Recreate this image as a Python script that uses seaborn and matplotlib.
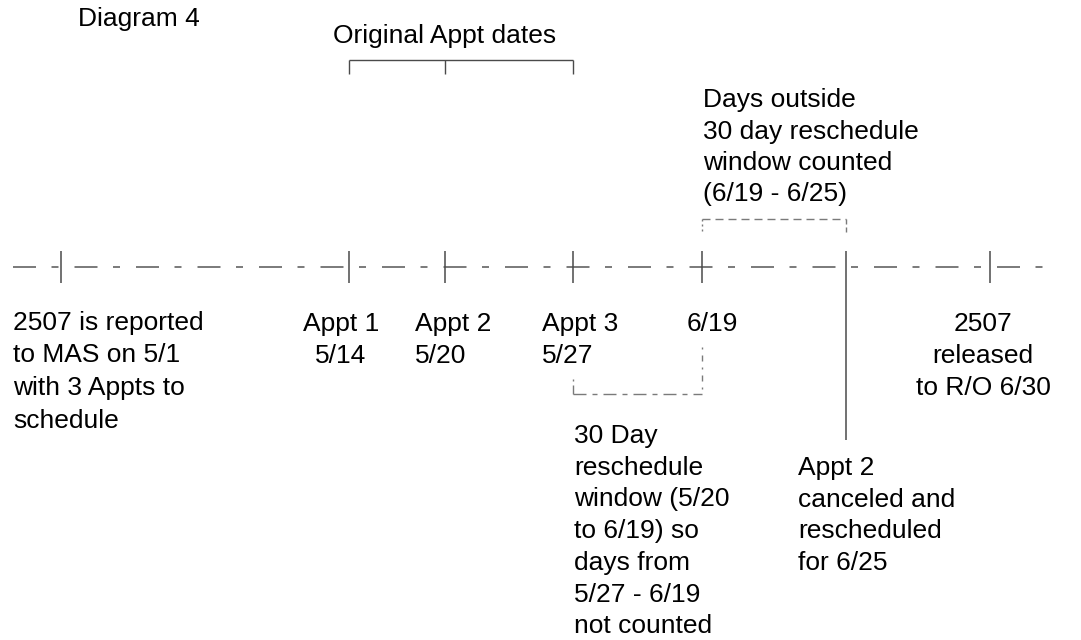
import matplotlib
matplotlib.use("Agg")
import matplotlib.pyplot as plt
import seaborn as sns
import pandas as pd

# ---- content ----
title = "Diagram 4"
bracket_title = "Original Appt dates"
event_names = ["Report", "Appt 1", "Appt 2", "Appt 3", "6/19", "Appt 2 resched", "Release"]
event_dates = ["5/1", "5/14", "5/20", "5/27", "6/19", "6/25", "6/30"]
left_note = ["2507 is reported", "to MAS on 5/1", "with 3 Appts to", "schedule"]
appt1_label = ["Appt 1", "5/14"]
appt2_label = ["Appt 2", "5/20"]
appt3_label = ["Appt 3", "5/27"]
day619_label = ["6/19"]
release_note = ["2507", "released", "to R/O 6/30"]
outside_note = ["Days outside", "30 day reschedule", "window counted", "(6/19 - 6/25)"]
window_note = ["30 Day", "reschedule", "window (5/20", "to 6/19) so", "days from",
               "5/27 - 6/19", "not counted"]
cancel_note = ["Appt 2", "canceled and", "rescheduled", "for 6/25"]

# ---- layout (pixel coordinates of the 1081x640 canvas) ----
W, H = 1081, 640
tick_x = [61, 349, 445, 573, 702, 846, 990]
line_y = 267
line_x0, line_x1 = 13, 1046

sns.set_theme(style="white")
plt.rcParams["font.family"] = ["Liberation Sans", "DejaVu Sans"]
plt.rcParams["lines.scale_dashes"] = False

fig = plt.figure(figsize=(W / 100, H / 100), dpi=100)
ax = fig.add_axes([0, 0, 1, 1])

px = 0.72  # points per pixel at 100 dpi
grey = "#7a7a7a"
dark = "#4a4a4a"

# timeline
tl = pd.DataFrame({"x": [line_x0, line_x1], "y": [line_y, line_y]})
sns.lineplot(data=tl, x="x", y="y", ax=ax, color=grey, lw=1.4,
             estimator=None, sort=False)
ax.lines[-1].set_linestyle((0, (23 * px, 15.5 * px, 7 * px, 16 * px)))
ax.lines[-1].set_dash_capstyle("butt")
ax.set_xlim(0, W)
ax.set_ylim(H, 0)
ax.axis("off")

# tick marks
tick_bottom = {846: 440}
for name, x in zip(event_names, tick_x):
    y1 = tick_bottom.get(x, 283)
    ax.plot([x, x], [251, y1], color=dark, lw=1.1, solid_capstyle="butt")

# Original Appt dates bracket
bx = [tick_x[1], tick_x[2], tick_x[3]]
ax.plot([bx[0], bx[-1]], [59.5, 59.5], color=dark, lw=1.0, solid_capstyle="butt")
for x in bx:
    ax.plot([x, x], [59.5, 74], color=dark, lw=1.0, solid_capstyle="butt")

# dashed bracket above (6/19 - 6/25)
dash_s = (0, (8 * px, 5 * px))
ax.plot([tick_x[4], tick_x[5]], [219, 219], color=grey, lw=1.0, linestyle=dash_s)
ax.plot([tick_x[4], tick_x[4]], [219, 234], color=grey, lw=1.0, linestyle=(0, (2 * px, 3 * px)))
ax.plot([tick_x[5], tick_x[5]], [219, 234], color=grey, lw=1.0, linestyle=(0, (5 * px, 3 * px)))

# dash-dot bracket below (5/27 - 6/19)
dash_dd = (0, (13 * px, 6 * px, 5 * px, 6 * px))
ax.plot([tick_x[3], tick_x[4]], [394, 394], color=grey, lw=1.0, linestyle=dash_dd)
ax.plot([tick_x[3], tick_x[3]], [379, 394], color=grey, lw=1.0, linestyle=(0, (2 * px, 4 * px, 9 * px, 4 * px)))
ax.plot([tick_x[4], tick_x[4]], [347, 394], color=grey, lw=1.0, linestyle=(0, (2 * px, 6 * px, 6 * px, 6 * px)))

fs = 19

def block(lines, x, y0, step, ha="left"):
    for i, s in enumerate(lines):
        ax.text(x, y0 + i * step, s, ha=ha, va="baseline", fontsize=fs, color="black")

block([title], 78, 26, 0)
block([bracket_title], 333, 43, 0)
block(outside_note, 703, 107, 31.5)
block(left_note, 13, 330, 32.5)
block(appt1_label, 341, 331, 32, ha="center")
block(appt2_label, 415, 331, 32)
block(appt3_label, 542, 331, 32)
block(day619_label, 687, 331, 32)
block(release_note, 983, 331, 32, ha="center")
block(window_note, 574, 443, 31.7)
block(cancel_note, 798, 475, 31.7)

fig.savefig("out.png", dpi=100)
